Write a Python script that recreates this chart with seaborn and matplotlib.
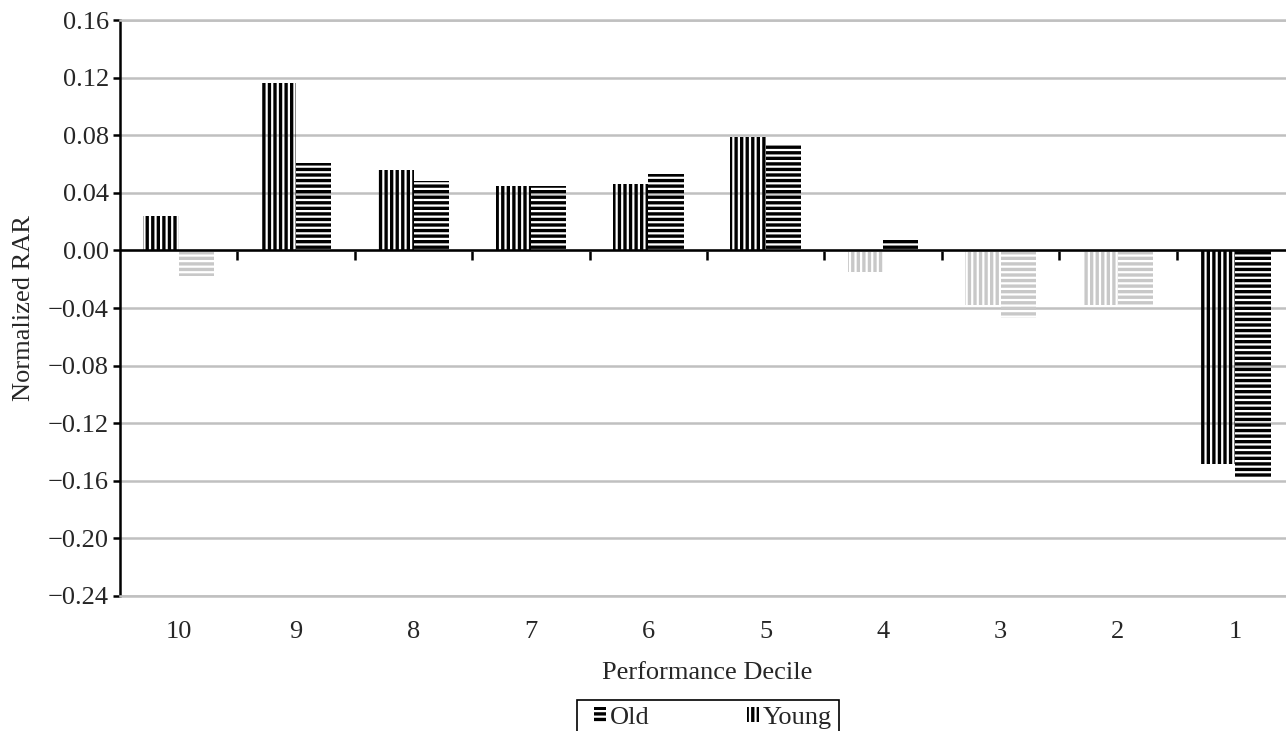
import pandas as pd
import seaborn as sns
import matplotlib.pyplot as plt
from matplotlib.patches import Patch
from matplotlib.legend_handler import HandlerPatch
from matplotlib.ticker import FuncFormatter

# =============================================
# Data
deciles = ['10', '9', '8', '7', '6', '5', '4', '3', '2', '1']
young_rar = [0.024, 0.116, 0.056, 0.045, 0.046, 0.079, -0.015, -0.038, -0.038, -0.148]
old_rar = [-0.018, 0.061, 0.048, 0.045, 0.053, 0.073, 0.008, -0.047, -0.038, -0.158]
# bars drawn in black (True) or light grey (False)
young_sig = [True, True, True, True, True, True, False, False, False, True]
old_sig = [False, True, True, True, True, True, True, False, False, True]
groups = ['Young', 'Old']
y_ticks = [-0.24, -0.20, -0.16, -0.12, -0.08, -0.04, 0.00, 0.04, 0.08, 0.12, 0.16]

# =============================================
# Plotting parameters
sns.set_style('white')
plt.rcParams['font.family'] = ['Liberation Serif', 'DejaVu Serif']
plt.rcParams['hatch.linewidth'] = 2.4
fontSize = 19
gridColor = '#c0c0c0'
greyBar = '#c8c8c8'
hatches = {'Young': '|||', 'Old': '---'}

df = pd.DataFrame({
    'decile': deciles * 2,
    'rar': young_rar + old_rar,
    'group': ['Young'] * len(deciles) + ['Old'] * len(deciles),
    'sig': young_sig + old_sig,
})

W, H = 1286, 731
fig = plt.figure(figsize=(W / 100, H / 100), dpi=100)
ax = fig.add_axes([120 / W, 1 - 596 / H, 1174 / W, 576 / H])

sns.barplot(data=df, x='decile', y='rar', hue='group', order=deciles, hue_order=groups,
            width=0.6, dodge=True, errorbar=None, legend=False, ax=ax)

for container, grp in zip(ax.containers, groups):
    flags = df[df['group'] == grp]['sig'].to_list()
    for bar, sig in zip(container, flags):
        bar.set_facecolor('none')
        bar.set_edgecolor('black' if sig else greyBar)
        bar.set_linewidth(0)
        bar.set_hatch(hatches[grp])

ax.set_xlim(-0.5, len(deciles) - 0.5)
ax.set_ylim(y_ticks[0], y_ticks[-1])
ax.set_yticks(y_ticks)
ax.yaxis.set_major_formatter(FuncFormatter(lambda v, p: f'{v:.2f}'.replace('-', '\u2212')))
ax.yaxis.grid(True, color=gridColor, lw=1.8)
ax.xaxis.grid(False)
ax.set_axisbelow(True)

for s in ['top', 'bottom']:
    ax.spines[s].set_color(gridColor)
    ax.spines[s].set_linewidth(1.8)
ax.spines['right'].set_visible(False)
ax.spines['left'].set_color('black')
ax.spines['left'].set_linewidth(1.8)

ax.tick_params(axis='x', length=0, pad=18, labelsize=fontSize)
ax.tick_params(axis='y', direction='out', length=5, width=1.8, color='black',
               pad=3, labelsize=fontSize, left=True)

# zero line with category boundary ticks
ax.axhline(0, color='black', lw=1.8, zorder=1.5)
sec = ax.secondary_xaxis((0 - y_ticks[0]) / (y_ticks[-1] - y_ticks[0]))
sec.set_xticks([i + 0.5 for i in range(len(deciles))])
sec.set_xticklabels([])
sec.tick_params(axis='x', direction='in', length=7, width=1.8, color='black')
for s in ['top', 'bottom']:
    sec.spines[s].set_visible(False)

ax.set_xlabel('Performance Decile', fontsize=fontSize, labelpad=14)
ax.set_ylabel('Normalized RAR', fontsize=fontSize, labelpad=9)

handles = [Patch(facecolor='none', edgecolor='black', lw=0, hatch=hatches['Old'], label='Old'),
           Patch(facecolor='none', edgecolor='black', lw=0, hatch=hatches['Young'], label='Young')]
leg = fig.legend(handles=handles, loc='upper left', bbox_to_anchor=(577 / W, 1 - 700 / H),
                 ncol=2, fontsize=fontSize, handlelength=0.85, handleheight=0.55,
                 handler_map={Patch: HandlerPatch(xpad=0.4)},
                 handletextpad=0.15, columnspacing=3.3, borderpad=0.25, borderaxespad=0,
                 fancybox=False, framealpha=1)
leg.get_frame().set_edgecolor('black')
leg.get_frame().set_linewidth(1.2)

plt.savefig('out.png', dpi=100)
plt.close()
